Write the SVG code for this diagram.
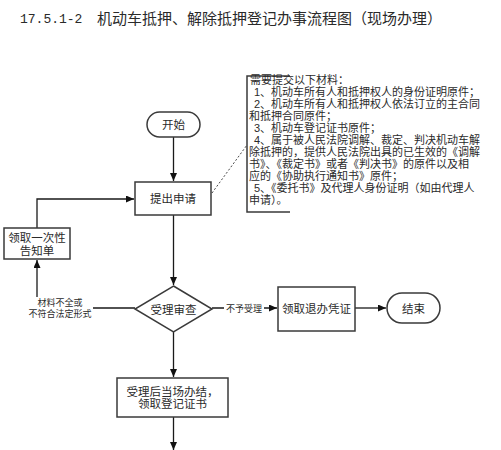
<svg xmlns="http://www.w3.org/2000/svg" width="501" height="450" viewBox="0 0 501 450">
<style>
  .box { fill: #ffffff; stroke: #3a3a3a; stroke-width: 1.5; }
  .t { font-family: "Liberation Sans", "Noto Sans CJK SC", sans-serif; fill: #2a2a2a; }
  .node { font-size: 11.5px; text-anchor: middle; }
  .note { font-size: 11px; }
  .lbl { font-size: 9px; text-anchor: middle; }
  .conn { fill: none; stroke: #1a1a1a; stroke-width: 1.3; }
</style>
<defs>
  <marker id="arr" markerUnits="userSpaceOnUse" markerWidth="9" markerHeight="8" refX="8" refY="3.5" orient="auto">
    <path d="M0,0 L8,3.5 L0,7 z" fill="#111"/>
  </marker>
</defs>
<rect width="501" height="450" fill="#ffffff"/>

<g id="title">
  <text x="20" y="23" font-family="Liberation Mono, monospace" font-size="13" fill="#2a2a2a">17.5.1-2</text>
  <text x="97" y="24" font-family="Noto Sans CJK SC, sans-serif" font-size="15" fill="#2a2a2a">机动车抵押、解除抵押登记办事流程图（现场办理）</text>
</g>

<g id="connectors">
  <path class="conn" d="M173.5,137 V181" marker-end="url(#arr)"/>
  <path class="conn" d="M173.5,215 V285" marker-end="url(#arr)"/>
  <path class="conn" d="M37,228 V199 H134" marker-end="url(#arr)"/>
  <path class="conn" d="M135,308 H37 V260" marker-end="url(#arr)"/>
  <path class="conn" d="M212,308 H277" marker-end="url(#arr)"/>
  <path class="conn" d="M355,308 H386" marker-end="url(#arr)"/>
  <path class="conn" d="M173.5,332 V377" marker-end="url(#arr)"/>
  <path class="conn" d="M173.5,417 V450" marker-end="url(#arr)"/>
  <path d="M212,193 L247,145" fill="none" stroke="#333" stroke-width="0.9" stroke-dasharray="2,2"/>
  <rect x="27" y="297" width="66" height="22" fill="#ffffff"/>
  <text class="t lbl" x="60" y="306">材料不全或<tspan x="60" dy="11">不符合法定形式</tspan></text>
  <rect x="224" y="302" width="40" height="13" fill="#ffffff"/>
  <text class="t lbl" x="244" y="312">不予受理</text>
</g>

<g id="start">
  <rect class="box" x="147" y="112" width="53" height="25" rx="12.5"/>
  <text class="t node" x="173.5" y="129">开始</text>
</g>

<g id="apply">
  <rect class="box" x="135" y="182" width="76" height="33"/>
  <text class="t node" x="173" y="202.5">提出申请</text>
</g>

<g id="notice">
  <rect class="box" x="4" y="228" width="66" height="31"/>
  <text class="t node" x="37" y="241.5">领取一次性<tspan x="37" dy="13">告知单</tspan></text>
</g>

<g id="review">
  <polygon class="box" points="173.5,286 212,309 173.5,332 135,309"/>
  <text class="t node" x="173.5" y="313.5">受理审查</text>
</g>

<g id="reject">
  <rect class="box" x="278" y="287" width="77" height="44"/>
  <text class="t node" x="316.5" y="313">领取退办凭证</text>
</g>

<g id="end">
  <rect class="box" x="387" y="293" width="53" height="30" rx="15"/>
  <text class="t node" x="413.5" y="312.5">结束</text>
</g>

<g id="done">
  <rect class="box" x="117" y="378" width="111" height="39"/>
  <text class="t node" x="172.5" y="396">受理后当场办结，<tspan x="172.5" dy="12">领取登记证书</tspan></text>
</g>

<g id="materials">
  <path d="M290,76 H247 V212 H290" fill="none" stroke="#3a3a3a" stroke-width="1.5"/>
  <text class="t note" x="250" y="84">需要提交以下材料：<tspan x="254" dy="12">1、机动车所有人和抵押权人的身份证明原件；</tspan><tspan x="254" dy="12">2、机动车所有人和抵押权人依法订立的主合同</tspan><tspan x="249" dy="12">和抵押合同原件；</tspan><tspan x="254" dy="12">3、机动车登记证书原件；</tspan><tspan x="254" dy="12">4、属于被人民法院调解、裁定、判决机动车解</tspan><tspan x="249" dy="12">除抵押的，提供人民法院出具的已生效的《调解</tspan><tspan x="249" dy="12">书》、《裁定书》或者《判决书》的原件以及相</tspan><tspan x="249" dy="12">应的《协助执行通知书》原件；</tspan><tspan x="254" dy="12">5、《委托书》及代理人身份证明（如由代理人</tspan><tspan x="249" dy="12">申请）。</tspan></text>
</g>
</svg>
